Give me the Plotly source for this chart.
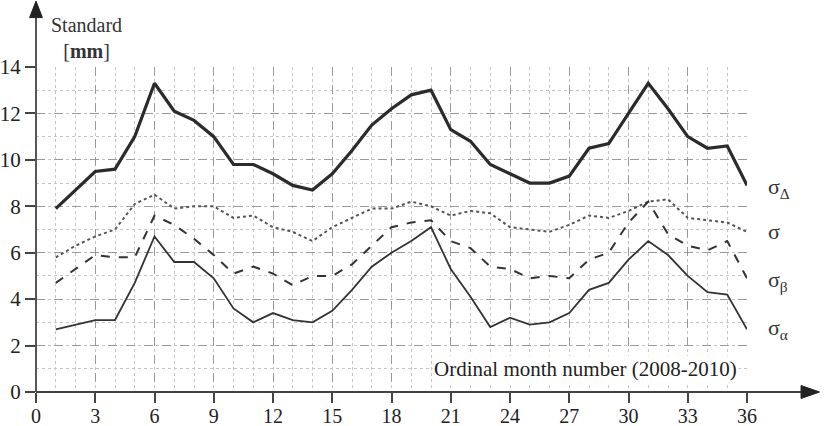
import plotly.graph_objects as go

months = list(range(1, 37))

sigma_delta = [7.9, 8.7, 9.5, 9.6, 11.0, 13.3, 12.1, 11.7, 11.0, 9.8, 9.8, 9.4,
               8.9, 8.7, 9.4, 10.4, 11.5, 12.2, 12.8, 13.0, 11.3, 10.8, 9.8, 9.4,
               9.0, 9.0, 9.3, 10.5, 10.7, 12.0, 13.3, 12.2, 11.0, 10.5, 10.6, 8.9]
sigma = [5.8, 6.3, 6.7, 7.0, 8.1, 8.5, 7.9, 8.0, 8.0, 7.5, 7.6, 7.1,
         6.9, 6.5, 7.1, 7.5, 7.9, 7.9, 8.2, 8.0, 7.6, 7.8, 7.7, 7.1,
         7.0, 6.9, 7.2, 7.6, 7.5, 7.8, 8.2, 8.3, 7.5, 7.4, 7.3, 6.9]
sigma_beta = [4.7, 5.3, 5.9, 5.8, 5.8, 7.6, 7.2, 6.6, 5.9, 5.1, 5.4, 5.1,
              4.6, 5.0, 5.0, 5.5, 6.3, 7.1, 7.3, 7.4, 6.5, 6.2, 5.4, 5.3,
              4.9, 5.0, 4.9, 5.7, 6.0, 7.3, 8.2, 6.8, 6.3, 6.1, 6.5, 4.9]
sigma_alpha = [2.7, 2.9, 3.1, 3.1, 4.7, 6.7, 5.6, 5.6, 4.9, 3.6, 3.0, 3.4,
               3.1, 3.0, 3.5, 4.4, 5.4, 6.0, 6.5, 7.1, 5.3, 4.1, 2.8, 3.2,
               2.9, 3.0, 3.4, 4.4, 4.7, 5.7, 6.5, 5.9, 5.0, 4.3, 4.2, 2.7]

x_ticks = list(range(0, 37, 3))
y_ticks = list(range(0, 15, 2))

series_labels = ["σ<sub>Δ</sub>", "σ", "σ<sub>β</sub>", "σ<sub>α</sub>"]
label_y = [8.8, 6.9, 4.8, 2.7]

INK = "#333333"
FONT = "Liberation Serif"

fig = go.Figure()
fig.add_trace(go.Scatter(x=months, y=sigma_delta, mode="lines",
                         line=dict(color="#2b2b2b", width=3.2), name="σΔ"))
fig.add_trace(go.Scatter(x=months, y=sigma, mode="lines",
                         line=dict(color="#555555", width=2, dash="dot"), name="σ"))
fig.add_trace(go.Scatter(x=months, y=sigma_beta, mode="lines",
                         line=dict(color="#333333", width=2, dash="dash"), name="σβ"))
fig.add_trace(go.Scatter(x=months, y=sigma_alpha, mode="lines",
                         line=dict(color="#333333", width=1.8), name="σα"))

for lab, yv in zip(series_labels, label_y):
    fig.add_annotation(x=36, y=yv, xref="x", yref="y", text=lab, showarrow=False,
                       xanchor="left", xshift=19, font=dict(family=FONT, size=22, color=INK))

fig.add_annotation(x=35.6, y=1.0, xref="x", yref="y", text="Ordinal month number (2008-2010)",
                   showarrow=False, xanchor="right", yanchor="middle",
                   font=dict(family=FONT, size=21, color="#222222"),
                   bgcolor="white", borderpad=1)

fig.add_annotation(x=0.071, y=1.09, xref="paper", yref="paper",
                   text="Standard<br>[<b>mm</b>]", align="center",
                   showarrow=False, xanchor="center", yanchor="middle",
                   font=dict(family=FONT, size=20, color=INK))

# axis lines with arrowheads
fig.add_shape(type="line", xref="paper", yref="paper", x0=0, x1=1.08, y0=0, y1=0,
              line=dict(color="#444444", width=1.8))
fig.add_shape(type="path", xref="paper", yref="paper",
              path="M 1.076 0.02 L 1.102 0 L 1.076 -0.02 Z",
              fillcolor="#222222", line=dict(color="#222222", width=1))
fig.add_shape(type="line", xref="paper", yref="paper", x0=0, x1=0, y0=0, y1=1.16,
              line=dict(color="#444444", width=1.8))
fig.add_shape(type="path", xref="paper", yref="paper",
              path="M -0.009 1.152 L 0 1.203 L 0.009 1.152 Z",
              fillcolor="#222222", line=dict(color="#222222", width=1))

fig.update_xaxes(range=[0, 36], tickvals=x_ticks, ticks="outside", ticklen=10,
                 tickwidth=1.5, tickcolor="#444444", showline=False, zeroline=False,
                 automargin=False, ticklabelstandoff=-4,
                 showgrid=True, gridcolor="#999999", griddash="dash", gridwidth=1,
                 minor=dict(dtick=1, tick0=0, showgrid=True, gridcolor="#c4c4c4",
                            griddash="dot", gridwidth=1, ticks=""),
                 tickfont=dict(family=FONT, size=20, color="#222222"))
fig.update_yaxes(range=[0, 14], tickvals=y_ticks, ticks="outside", ticklen=10,
                 tickwidth=1.5, tickcolor="#444444", showline=False, zeroline=False,
                 automargin=False,
                 showgrid=True, gridcolor="#999999", griddash="dash", gridwidth=1,
                 minor=dict(dtick=1, tick0=0, showgrid=True, gridcolor="#c4c4c4",
                            griddash="dot", gridwidth=1, ticks=""),
                 tickfont=dict(family=FONT, size=21, color="#222222"))

fig.update_layout(width=830, height=426, margin=dict(l=36, r=83, t=67, b=34),
                  plot_bgcolor="white", paper_bgcolor="white", showlegend=False)

fig.write_html("out.html")
